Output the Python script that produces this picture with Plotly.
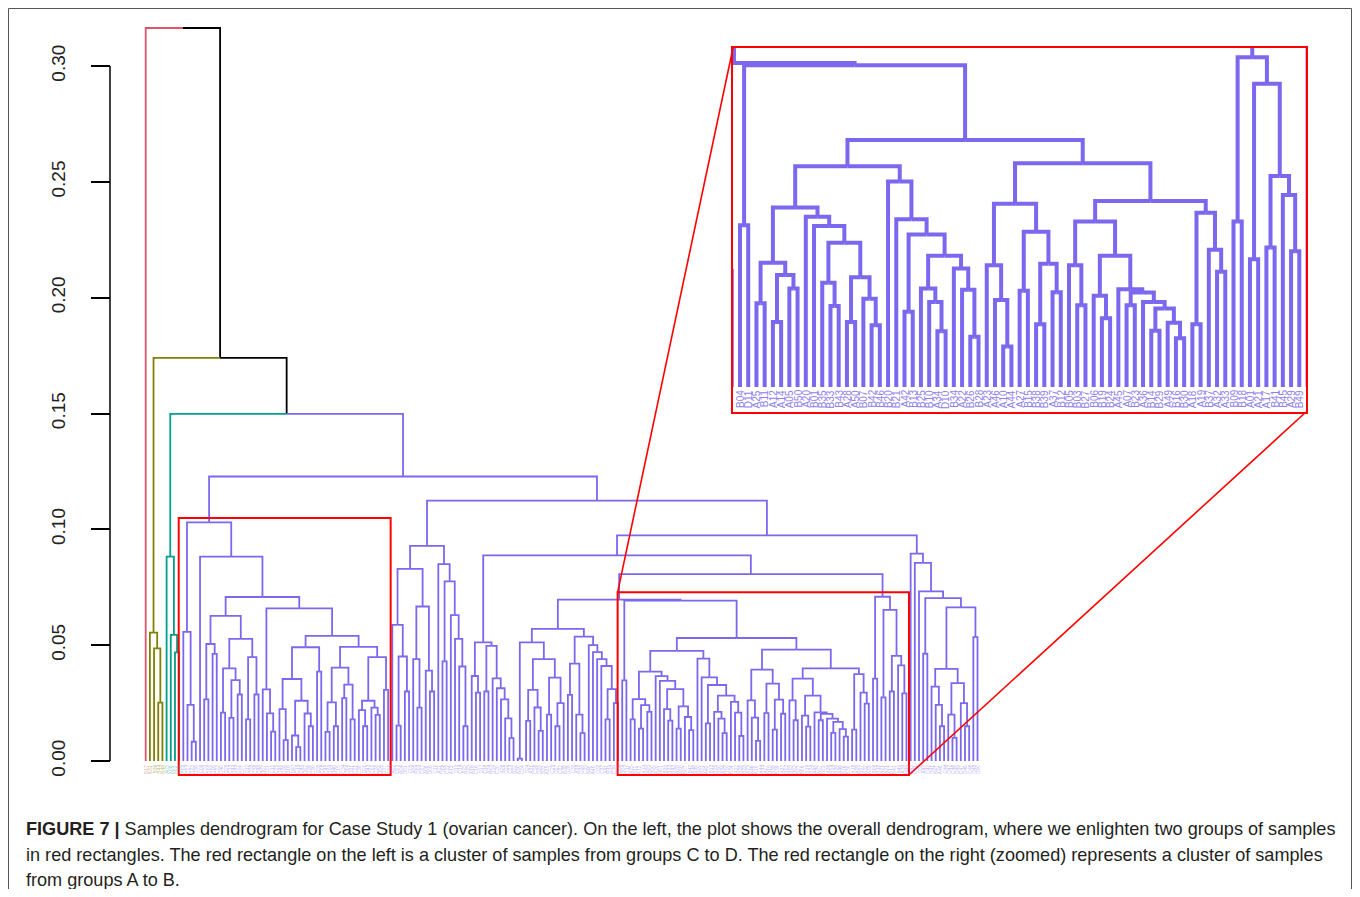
import plotly.graph_objects as go

W, H = 1344, 881   # page body margin of 8 px surrounds the figure

# ---------------- data: cluster trees (Newick, leaf '*' = label taken from list) ----------------
pink_newick = "*"
olive_newick = "(*,(*,(*,*)0.0252)0.0486)0.0554"
teal_newick = "(*,(*,(*,*)0.0469)0.0544)0.0882"

cd_a = "(*,(*,(*,*)0.0083)0.0242)0.0557"
cd_d1 = "((*,*)0.0266,(*,*)0.0462)0.0505"
cd_d2a = "((*,*)0.0209,((*,*)0.0186,(*,*)0.0287)0.0349)0.0400"
cd_d2b = "((*,*)0.0180,(*,*)0.0287)0.0448"
cd_e1 = "(*,(*,(*,*)0.0127)0.0206)0.0309"
cd_e2a1 = "((*,(*,*)0.0090)0.0224,((*,(*,*)0.0060)0.0110,(*,(*,*)0.0150)0.0205)0.0260)0.0354"
cd_e2b1 = "(((*,*)0.0126,(*,*)0.0150)0.0253,((*,*)0.0271,(*,*)0.0180)0.0330)0.0403"
cd_e2b2 = "(((*,(*,*)0.0150)0.0220,(*,(*,*)0.0199)0.0230)0.0260,(*,*)0.0307)0.0448"
cd_newick = (f"({cd_a},(*,(({cd_d1},({cd_d2a},{cd_d2b})0.0527)0.0626,"
             f"({cd_e1},(({cd_e2a1},(*,*)0.0386)0.0491,({cd_e2b1},{cd_e2b2})0.0493)0.0540)0.0659)0.0708)0.0882)0.1030")

r1l_newick = ("(((*,((*,*)0.0153,(*,*)0.0300)0.0451)0.0588,((*,(*,*)0.0230)0.0440,(*,(*,*)0.0300)0.0390)0.0667)0.0829,"
              "(*,((*,*)0.0430,(*,(*,(*,(*,*)0.0150)0.0408)0.0527)0.0630)0.0775)0.0850)0.0929")
a_newick = "((*,(*,*)0.0295)0.0367,((*,*)0.0300,(*,(*,(*,(*,(*,*)0.0099)0.0184)0.0266)0.0314)0.0357)0.0497)0.0512"
m_newick = ("(((*,*)0.0010,(((*,*)0.0173,(*,(*,*)0.0130)0.0231)0.0307,((*,*)0.0200,((*,*)0.0150,*)0.0250)0.0360)0.0440)0.0512,"
            "(((*,*)0.0285,(*,(*,*)0.0120)0.0200)0.0420,(*,(*,(*,(*,((*,*)0.0180,(*,*)0.0250)0.0310)0.0410)0.0440)0.0470)0.0500)0.0537)0.0570")

ab60_xll = ("(((A25,B11)0.0180,((A12,A14)0.0140,(A05,B50)0.0212)0.0241)0.0267,(A20,(B01,((B35,(B33,B43)0.0174)0.0224,"
            "((A28,A50)0.0140,(B07,(B42,B46)0.0133)0.0190)0.0236)0.0310)0.0346)0.0366)0.0386")
ab60_xlr = "(B20,(B21,((A42,B13)0.0162,((B25,(B10,(A34,D10)0.0120)0.0183)0.0212,(B34,(A22,(B26,B28)0.0108)0.0209)0.0255)0.0282)0.0328)0.0361)0.0442"
ab60_xrl = "((A23,(A46,(A10,A44)0.0087)0.0187)0.0262,((A27,B15)0.0207,((B38,B39)0.0135,(A37,B12)0.0204)0.0265)0.0334)0.0394"
ab60_xrr = ("(((B05,(B03,B27)0.0176)0.0262,((B06,(B19,B24)0.0148)0.0196,(A45,((A07,B23)0.0176,(A36,((B14,B29)0.0121,"
            "(A49,(B16,B30)0.0105)0.0138)0.0169)0.0183)0.0203)0.0210)0.0282)0.0356,((A18,A19)0.0135,(B37,(A32,A33)0.0248)0.0295)0.0375)0.0400")
ab60_newick = f"((B04,D11)0.0348,(({ab60_xll},{ab60_xlr})0.0475,({ab60_xrl},{ab60_xrr})0.0481)0.0531)0.0692"
ab9_newick = "((B09,B18)0.0356,((A01,A21)0.0275,((A17,B41)0.0300,(B45,(A29,B49)0.0292)0.0413)0.0454)0.0652)0.0709"
rr_newick = ("(*,(*,(*,((*,*)0.0463,(((*,(*,(*,*)0.0150)0.0242)0.0321,((*,(*,*)0.0100)0.0200,(*,(*,*)0.0150)0.0250)0.0336)0.0398,"
             "(*,*)0.0535)0.0663)0.0703)0.0732)0.0855)0.0895")

# merge heights of the upper tree
purple_join_heights = {"m_ab60": 0.0697, "ab9": 0.0807, "a": 0.0888, "rr": 0.0974, "r1l": 0.1124, "cd": 0.1228}
teal_join_height = 0.1498
olive_join_height = 0.1740
root_height = 0.3164

# leaf labels (tiny labels of the overview are unreadable; estimated)
pink_labels = ["B17"]
olive_labels = ["B31", "B36", "B44", "B48"]
teal_labels = ["A03", "A09", "B02", "B08"]
cd_labels = ("C04 C17 D23 D38 C09 C31 D05 D16 C22 C40 D29 C13 D44 C02 C27 D12 D33 C36 C48 D07 "
             "D21 C11 C25 D40 C06 D18 D47 C19 C43 D02 D26 C30 D35 C08 C45 D14 D49 C15 C34 D09 "
             "D31 C21 C38 D20 D43 C01 C28 D04 D37 C50").split()
r1l_labels = "A02 C03 A04 D01 C05 A06 D03 C07 A08 D06 C10 A11 D08 C12 A13 D13 C14 A15 D15".split()
a_labels = "A16 C16 D17 C18 A24 D19 C20 A26 D22 C23 B22".split()
m_labels = ("A30 C24 D24 A31 C26 D25 B32 A35 C29 D27 C32 A38 D28 C33 A39 D30 C35 B40 A40 D32 "
            "C37 A41 D34 C39 D36").split()
rr_labels = "A43 C41 D39 A47 C42 D41 B47 A48 C44 D42 C46 D45 C47 D46 C49 D48 D50".split()

y_ticks = [0.00, 0.05, 0.10, 0.15, 0.20, 0.25, 0.30]

caption_lines = [
    "<b>FIGURE 7 |</b> Samples dendrogram for Case Study 1 (ovarian cancer). On the left, the plot shows the overall dendrogram, where we enlighten two groups of samples",
    "in red rectangles. The red rectangle on the left is a cluster of samples from groups C to D. The red rectangle on the right (zoomed) represents a cluster of samples",
    "from groups A to B.",
]

colors = {"pink": "#DF536B", "olive": "#808000", "teal": "#009E8C", "purple": "#7B68EE", "black": "#000000"}
label_colors = {"pink": "rgba(223,83,107,0.55)", "olive": "rgba(128,128,0,0.55)", "teal": "rgba(0,158,140,0.5)",
                "purple": "rgba(123,104,238,0.5)", "black": "#000"}


# ---------------- tree helpers ----------------
def parse_newick(s, labels=()):
    s = s.replace(" ", "")
    it = iter(labels)
    pos = 0

    def node():
        nonlocal pos
        if s[pos] == "(":
            pos += 1
            kids = [node()]
            while s[pos] == ",":
                pos += 1
                kids.append(node())
            pos += 1
            j = pos
            while pos < len(s) and (s[pos].isdigit() or s[pos] == "."):
                pos += 1
            return {"kids": kids, "h": float(s[j:pos])}
        j = pos
        while pos < len(s) and s[pos] not in ",()":
            pos += 1
        name = s[j:pos]
        if name == "*":
            name = next(it)
        return {"kids": [], "h": 0.0, "name": name}

    return node()


def paint(n, c):
    n["color"] = c
    for k in n["kids"]:
        paint(k, c)
    return n


def join(a, b, h, c="black"):
    return {"kids": [a, b], "h": h, "color": c}


pink = paint(parse_newick(pink_newick, pink_labels), "pink")
olive = paint(parse_newick(olive_newick, olive_labels), "olive")
teal = paint(parse_newick(teal_newick, teal_labels), "teal")
cd = parse_newick(cd_newick, cd_labels)
r1l = parse_newick(r1l_newick, r1l_labels)
aa = parse_newick(a_newick, a_labels)
mm = parse_newick(m_newick, m_labels)
ab60 = parse_newick(ab60_newick)
ab9 = parse_newick(ab9_newick)
rr = parse_newick(rr_newick, rr_labels)
ph = purple_join_heights
purple = paint(join(cd, join(r1l, join(join(aa, join(join(mm, ab60, ph["m_ab60"]), ab9, ph["ab9"]), ph["a"]),
                                          rr, ph["rr"]), ph["r1l"]), ph["cd"]), "purple")
tree = join(pink, join(olive, join(teal, purple, teal_join_height), olive_join_height), root_height)
tree["color"] = "black"

leaves = []


def layout(n):
    if not n["kids"]:
        n["x"] = len(leaves)
        leaves.append(n)
        return
    for k in n["kids"]:
        layout(k)
    n["x"] = (n["kids"][0]["x"] + n["kids"][-1]["x"]) / 2


layout(tree)
idx = {lf["name"]: i for i, lf in enumerate(leaves)}

segs = {}


def collect(n):
    for k in n["kids"]:
        xs, ys = segs.setdefault(k["color"], ([], []))
        xs += [n["x"], k["x"], k["x"], None]
        ys += [n["h"], n["h"], k["h"], None]
        collect(k)


collect(tree)

# ---------------- geometry (figure pixels -> domains/ranges) ----------------
leaf_px0, leaf_step = 137.7, 4.18          # main: leaf i at px
base_py, y_scale = 753.0, 2316.7           # main: height h at py
main_xpx = (112, 1002)
main_ypx = (777, 7)
x_rng = [(main_xpx[0] - leaf_px0) / leaf_step, (main_xpx[1] - leaf_px0) / leaf_step]
y_rng = [(base_py - main_ypx[0]) / y_scale, (base_py - main_ypx[1]) / y_scale]
x_dom = [main_xpx[0] / W, main_xpx[1] / W]
y_dom = [1 - main_ypx[0] / H, 1 - main_ypx[1] / H]

first_ab, last_ab = idx["B04"], idx["B49"]
ins_xpx = (725, 1298)
ins_ypx = (404, 40)
ins_leaf_px0, ins_step = 732.0, 8.225
ins_base, ins_scale = 379.0, 4650.0
x2_rng = [first_ab + (ins_xpx[0] - ins_leaf_px0) / ins_step, first_ab + (ins_xpx[1] - ins_leaf_px0) / ins_step]
y2_rng = [(ins_base - ins_ypx[0]) / ins_scale, (ins_base - ins_ypx[1]) / ins_scale]
x2_dom = [ins_xpx[0] / W, ins_xpx[1] / W]
y2_dom = [1 - ins_ypx[0] / H, 1 - ins_ypx[1] / H]
axis_px = 102


def to_paper(v, dom, rng):
    return dom[0] + (v - rng[0]) / (rng[1] - rng[0]) * (dom[1] - dom[0])


fig = go.Figure()
for cname, (xs, ys) in segs.items():
    fig.add_trace(go.Scatter(x=xs, y=ys, mode="lines", line=dict(color=colors[cname], width=1.8),
                             hoverinfo="skip", showlegend=False, xaxis="x", yaxis="y"))
xs, ys = segs["purple"]
fig.add_trace(go.Scatter(x=xs, y=ys, mode="lines", line=dict(color=colors["purple"], width=4),
                         hoverinfo="skip", showlegend=False, xaxis="x2", yaxis="y2"))

annotations = []
for i, lf in enumerate(leaves):
    annotations.append(dict(x=i, y=0, xref="x", yref="y", text=lf["name"], showarrow=False, textangle=-90,
                            xanchor="center", yanchor="top", yshift=-2,
                            font=dict(size=5, color=label_colors[lf["color"]], family="Liberation Sans")))
for i in range(first_ab, last_ab + 1):
    annotations.append(dict(x=i, y=0, xref="x2", yref="y2", text=leaves[i]["name"], showarrow=False, textangle=-90,
                            xanchor="center", yanchor="top", yshift=-1,
                            font=dict(size=10, color="#8F82EC", family="Liberation Sans")))
cap_y = [821, 847, 872]
for line, py in zip(caption_lines, cap_y):
    annotations.append(dict(x=16 / W, y=1 - py / H, xref="paper", yref="paper", text=line, showarrow=False,
                            xanchor="left", yanchor="middle", align="left",
                            font=dict(size=18.1, color="#231F20", family="Liberation Sans")))

shapes = []
# outer frame
shapes.append(dict(type="rect", xref="paper", yref="paper", x0=0.5 / W, x1=1 - 0.5 / W, y0=-0.05, y1=1 - 0.5 / H,
                   line=dict(color="#555", width=1)))
# y axis line (R style, only over tick range)
shapes.append(dict(type="line", xref="paper", yref="y", x0=axis_px / W, x1=axis_px / W, y0=y_ticks[0], y1=y_ticks[-1],
                   line=dict(color="#000", width=1.5)))
# red rectangles around the two highlighted clusters
rect_pad_l, rect_pad_r, rect_pad_top, rect_bottom = 1.1, 0.6, 0.0019, -0.006
rects = [(idx[cd_labels[0]], idx[cd_labels[-1]], cd["h"]),
         (first_ab, last_ab, max(ab60["h"], ab9["h"]))]
for a0, a1, top in rects:
    shapes.append(dict(type="rect", xref="x", yref="y", x0=a0 - rect_pad_l, x1=a1 + rect_pad_r,
                       y0=rect_bottom, y1=top + rect_pad_top, line=dict(color="#FF0000", width=2)))
# connector lines from zoom rectangle to inset
a0, a1, top = rects[1]
shapes.append(dict(type="line", xref="paper", yref="paper",
                   x0=to_paper(a0 - rect_pad_l, x_dom, x_rng), y0=to_paper(top + rect_pad_top, y_dom, y_rng),
                   x1=x2_dom[0], y1=y2_dom[1], line=dict(color="#FF0000", width=1.6)))
shapes.append(dict(type="line", xref="paper", yref="paper",
                   x0=to_paper(a1 + rect_pad_r, x_dom, x_rng), y0=to_paper(rect_bottom, y_dom, y_rng),
                   x1=x2_dom[1], y1=y2_dom[0], line=dict(color="#FF0000", width=1.6)))

fig.update_layout(
    width=W, height=H, margin=dict(l=0, r=0, t=0, b=0),
    paper_bgcolor="white", plot_bgcolor="rgba(0,0,0,0)",
    xaxis=dict(domain=x_dom, range=x_rng, visible=False, anchor="y"),
    yaxis=dict(domain=y_dom, range=y_rng, anchor="free", position=axis_px / W, showgrid=False, zeroline=False,
               showline=False, ticks="outside", ticklen=19, tickwidth=1.5, tickcolor="#000",
               tickvals=y_ticks, ticktext=[f"{v:.2f}" for v in y_ticks], tickangle=-90,
               ticklabelstandoff=18,
               tickfont=dict(size=19, color="#222", family="Liberation Sans")),
    xaxis2=dict(domain=x2_dom, range=x2_rng, anchor="y2", showgrid=False, zeroline=False, showticklabels=False,
                ticks="", showline=True, mirror=True, linecolor="#FF0000", linewidth=2),
    yaxis2=dict(domain=y2_dom, range=y2_rng, anchor="x2", showgrid=False, zeroline=False, showticklabels=False,
                ticks="", showline=True, mirror=True, linecolor="#FF0000", linewidth=2),
    annotations=annotations, shapes=shapes,
)
fig.write_html("out.html")
